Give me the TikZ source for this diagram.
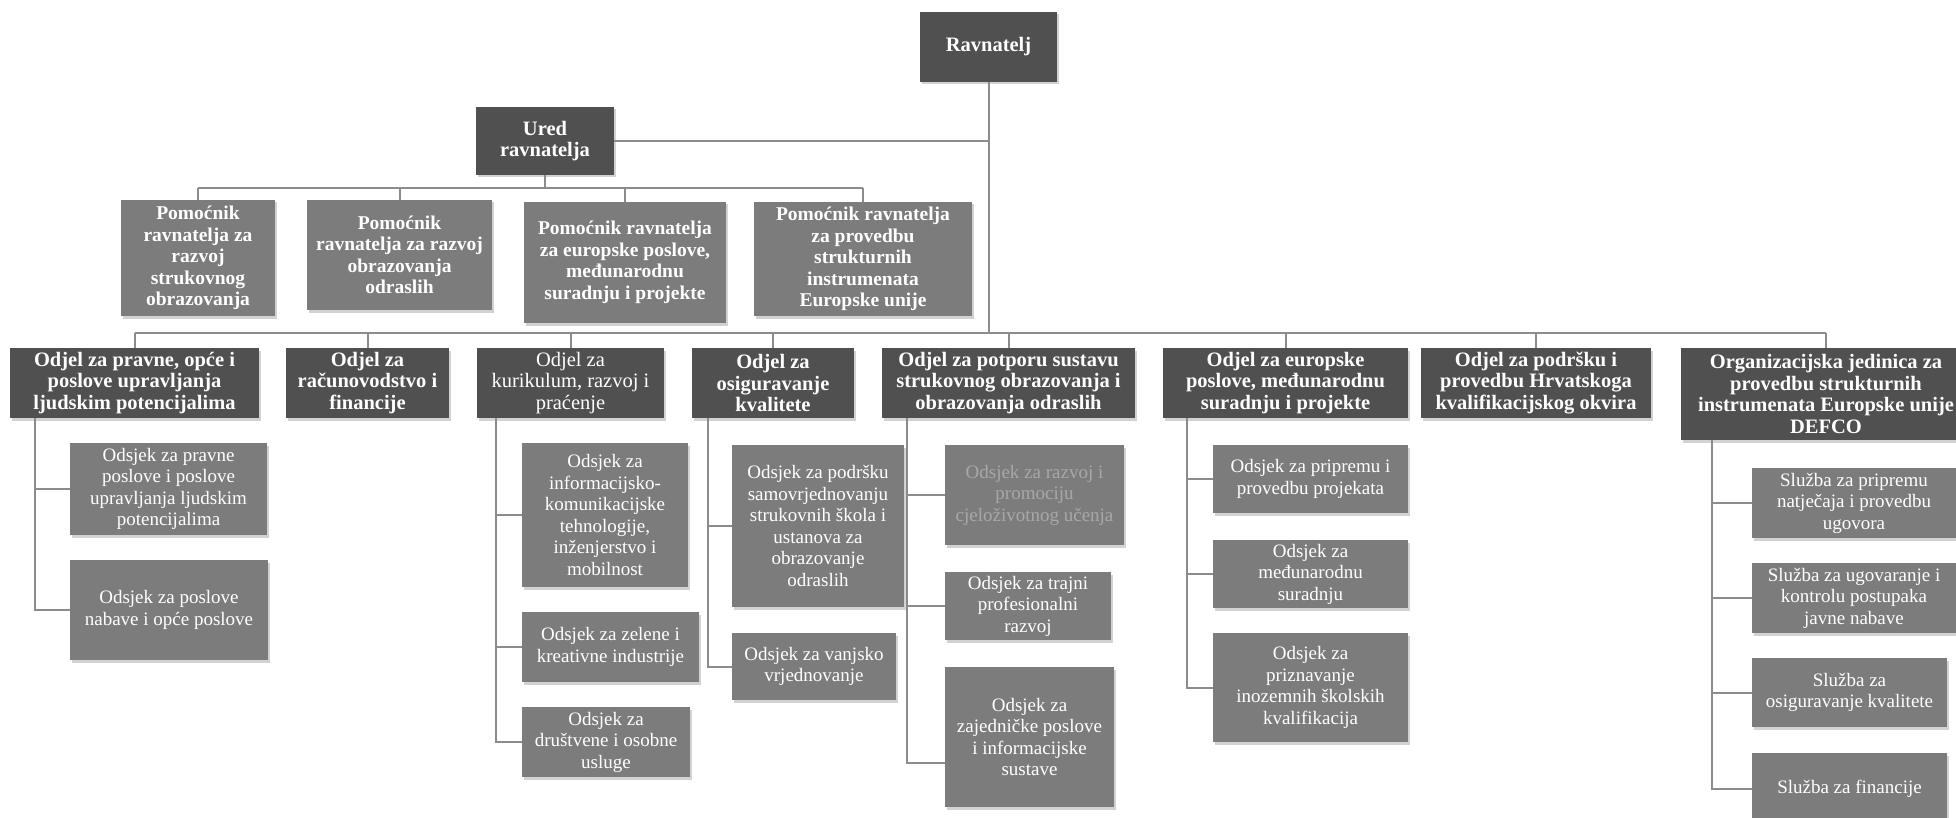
\documentclass[tikz,border=0pt]{standalone}
\usepackage{fontspec}
\setmainfont{Liberation Serif}
\usetikzlibrary{shadows,calc}
\definecolor{cdark}{RGB}{80,80,80}
\definecolor{cmid}{RGB}{124,124,124}
\definecolor{cline}{RGB}{140,140,140}
\definecolor{cfaint}{RGB}{168,168,168}
\tikzset{
  boxbase/.style={rectangle, inner sep=2pt, align=center, text=white,
    drop shadow={shadow xshift=1.5pt, shadow yshift=-2.5pt, opacity=0.35}},
  headbox/.style={boxbase, fill=cdark, font=\bfseries\fontsize{20.5}{21.5}\selectfont},
  headboxreg/.style={boxbase, fill=cdark, font=\fontsize{20.5}{21.5}\selectfont},
  pombox/.style={boxbase, fill=cmid, font=\bfseries\fontsize{19.5}{21.5}\selectfont},
  subbox/.style={boxbase, fill=cmid, font=\fontsize{19}{21.5}\selectfont},
  faintbox/.style={subbox, text=cfaint},
  conn/.style={draw=cline, line width=2pt},
}
\newcommand{\orgbox}[7]{%
  \node[#2, minimum width={(#5-#3)*1pt}, minimum height={(#6-#4)*1pt}]
    (#1) at ({(#3+#5)/2},{(#4+#6)/2}) {#7};}
\begin{document}
\begin{tikzpicture}[x=1pt,y=-1pt]
\useasboundingbox (0,0) rectangle (1956,818);
\fill[white] (0,0) rectangle (1956,818);
\clip (0,0) rectangle (1956,818);

% top
\orgbox{rav}{headbox}{920}{12}{1057}{82}{Ravnatelj}
\orgbox{ured}{headbox}{476}{107}{614}{175}{Ured\\ravnatelja}

% assistants
\orgbox{p1}{pombox}{121}{200}{275}{316}{Pomoćnik\\ravnatelja za\\razvoj\\strukovnog\\obrazovanja}
\orgbox{p2}{pombox}{307}{200}{492}{310}{Pomoćnik\\ravnatelja za razvoj\\obrazovanja\\odraslih}
\orgbox{p3}{pombox}{524}{202}{726}{323}{Pomoćnik ravnatelja\\za europske poslove,\\međunarodnu\\suradnju i projekte}
\orgbox{p4}{pombox}{754}{202}{972}{316}{Pomoćnik ravnatelja\\za provedbu\\strukturnih\\instrumenata\\Europske unije}

% departments
\orgbox{o1}{headbox}{10}{348}{259}{418}{Odjel za pravne, opće i\\poslove upravljanja\\ljudskim potencijalima}
\orgbox{o2}{headbox}{286}{348}{449}{418}{Odjel za\\računovodstvo i\\financije}
\orgbox{o3}{headboxreg}{477}{348}{664}{418}{Odjel za\\kurikulum, razvoj i\\praćenje}
\orgbox{o4}{headbox}{692}{348}{854}{418}{Odjel za\\osiguravanje\\kvalitete}
\orgbox{o5}{headbox}{882}{348}{1135}{418}{Odjel za potporu sustavu\\strukovnog obrazovanja i\\obrazovanja odraslih}
\orgbox{o6}{headbox}{1163}{348}{1408}{418}{Odjel za europske\\poslove, međunarodnu\\suradnju i projekte}
\orgbox{o7}{headbox}{1421}{348}{1651}{418}{Odjel za podršku i\\provedbu Hrvatskoga\\kvalifikacijskog okvira}
\orgbox{o8}{headbox}{1681}{348}{1971}{440}{Organizacijska jedinica za\\provedbu strukturnih\\instrumenata Europske unije\\DEFCO}

% sections
\orgbox{s11}{subbox}{70}{443}{267}{535}{Odsjek za pravne\\poslove i poslove\\upravljanja ljudskim\\potencijalima}
\orgbox{s12}{subbox}{70}{560}{268}{660}{Odsjek za poslove\\nabave i opće poslove}
\orgbox{s31}{subbox}{522}{443}{688}{587}{Odsjek za\\informacijsko-\\komunikacijske\\tehnologije,\\inženjerstvo i\\mobilnost}
\orgbox{s32}{subbox}{522}{612}{699}{682}{Odsjek za zelene i\\kreativne industrije}
\orgbox{s33}{subbox}{522}{707}{690}{777}{Odsjek za\\društvene i osobne\\usluge}
\orgbox{s41}{subbox}{732}{445}{904}{607}{Odsjek za podršku\\samovrjednovanju\\strukovnih škola i\\ustanova za\\obrazovanje\\odraslih}
\orgbox{s42}{subbox}{732}{633}{896}{700}{Odsjek za vanjsko\\vrjednovanje}
\orgbox{s51}{faintbox}{945}{445}{1124}{545}{Odsjek za razvoj i\\promociju\\cjeloživotnog učenja}
\orgbox{s52}{subbox}{945}{572}{1111}{640}{Odsjek za trajni\\profesionalni\\razvoj}
\orgbox{s53}{subbox}{945}{667}{1114}{807}{Odsjek za\\zajedničke poslove\\i informacijske\\sustave}
\orgbox{s61}{subbox}{1213}{445}{1408}{513}{Odsjek za pripremu i\\provedbu projekata}
\orgbox{s62}{subbox}{1213}{540}{1408}{608}{Odsjek za\\međunarodnu\\suradnju}
\orgbox{s63}{subbox}{1213}{633}{1408}{742}{Odsjek za\\priznavanje\\inozemnih školskih\\kvalifikacija}
\orgbox{s81}{subbox}{1752}{468}{1956}{538}{Služba za pripremu\\natječaja i provedbu\\ugovora}
\orgbox{s82}{subbox}{1752}{563}{1956}{633}{Služba za ugovaranje i\\kontrolu postupaka\\javne nabave}
\orgbox{s83}{subbox}{1752}{658}{1947}{727}{Služba za\\osiguravanje kvalitete}
\orgbox{s84}{subbox}{1752}{753}{1947}{825}{Služba za financije}

% bus levels
\coordinate (pbus) at (0,188);
\coordinate (obus) at (0,333);
\coordinate (o1v) at (35,418);
\coordinate (o3v) at (496,418);
\coordinate (o4v) at (708,418);
\coordinate (o5v) at (907,418);
\coordinate (o6v) at (1187,418);
\coordinate (o8v) at (1712,440);

% connectors
\draw[conn] (rav.south) -- (rav.south |- obus);
\draw[conn] (ured.east) -- (ured.east -| rav.south);
\draw[conn] (ured.south) -- (ured.south |- pbus);
\draw[conn] (p1.north |- pbus) -- (p4.north |- pbus);
\foreach \p in {p1,p2,p3,p4} \draw[conn] (\p.north |- pbus) -- (\p.north);
\draw[conn] (o1.north |- obus) -- (o8.north |- obus);
\foreach \o in {o1,o2,o3,o4,o5,o6,o7,o8} \draw[conn] (\o.north |- obus) -- (\o.north);

\draw[conn] (o1v) |- (s11.west);
\draw[conn] (o1v) |- (s12.west);
\draw[conn] (o3v) |- (s31.west);
\draw[conn] (o3v) |- (s32.west);
\draw[conn] (o3v) |- (s33.west);
\draw[conn] (o4v) |- (s41.west);
\draw[conn] (o4v) |- (s42.west);
\draw[conn] (o5v) |- (s51.west);
\draw[conn] (o5v) |- (s52.west);
\draw[conn] (o5v) |- ($(s53.west)+(0,26)$);
\draw[conn] (o6v) |- (s61.west);
\draw[conn] (o6v) |- (s62.west);
\draw[conn] (o6v) |- (s63.west);
\draw[conn] (o8v) |- (s81.west);
\draw[conn] (o8v) |- (s82.west);
\draw[conn] (o8v) |- (s83.west);
\draw[conn] (o8v) |- (s84.west);
\end{tikzpicture}
\end{document}
